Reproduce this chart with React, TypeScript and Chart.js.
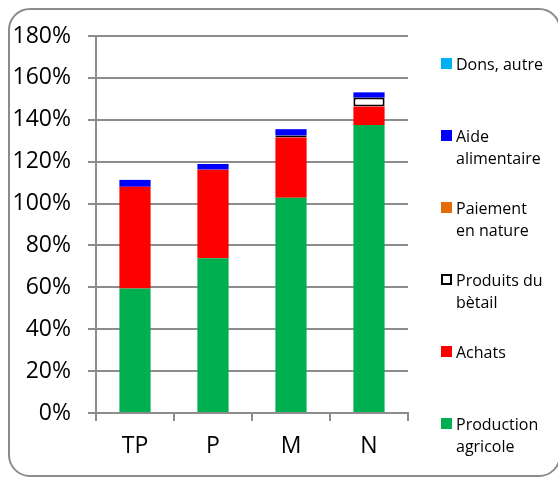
import React, { useEffect, useRef } from "react";
import { Chart, registerables } from "chart.js";

Chart.register(...registerables);

const categories = ["TP", "P", "M", "N"];
const productionAgricole = [59.5, 73.9, 102.8, 137.5];
const achats = [48.5, 42.3, 28.7, 8.8];
const produitsDuBetail = [0, 0, 1.0, 4.3];
const paiementEnNature = [0, 0, 0, 0];
const aideAlimentaire = [3.3, 2.7, 3.0, 2.5];
const donsAutre = [0, 0, 0, 0];

const seriesNames = [
  "Production agricole",
  "Achats",
  "Produits du bètail",
  "Paiement en nature",
  "Aide alimentaire",
  "Dons, autre",
];
const legendLines = [
  ["Production", "agricole"],
  ["Achats"],
  ["Produits du", "bètail"],
  ["Paiement", "en nature"],
  ["Aide", "alimentaire"],
  ["Dons, autre"],
];
const yMin = 0;
const yMax = 180;
const yStep = 20;

const FONT = '"Open Sans", "Noto Sans", sans-serif';

const sideLegend = {
  id: "sideLegend",
  afterDraw(chart: any) {
    const ctx = chart.ctx as CanvasRenderingContext2D;
    const ds = chart.data.datasets;
    const n = ds.length;
    ctx.save();
    ctx.font = `16px ${FONT}`;
    ctx.textAlign = "left";
    ctx.textBaseline = "alphabetic";
    const boxX = 441;
    const size = 11;
    const firstCenter = 63.5;
    const step = 72;
    for (let i = 0; i < n; i++) {
      const idx = n - 1 - i;
      const d = ds[idx];
      const cy = firstCenter + i * step;
      const top = cy - size / 2;
      if (d.borderWidth && d.borderWidth > 0) {
        ctx.fillStyle = d.backgroundColor;
        ctx.fillRect(boxX, top, size, size);
        ctx.strokeStyle = d.borderColor;
        ctx.lineWidth = 2;
        ctx.strokeRect(boxX + 1, top + 1, size - 2, size - 2);
      } else {
        ctx.fillStyle = d.backgroundColor;
        ctx.fillRect(boxX, top, size, size);
      }
      ctx.fillStyle = "#000";
      const lines = legendLines[idx];
      lines.forEach((ln, k) => {
        ctx.fillText(ln, 456, cy + 6 + k * 22);
      });
    }
    ctx.restore();
  },
};

export default function App() {
  const ref = useRef<HTMLCanvasElement | null>(null);

  useEffect(() => {
    if (!ref.current) return;
    const mk = (label: string, data: number[], color: string, border?: string) => ({
      label,
      data,
      backgroundColor: color,
      borderColor: border || color,
      borderWidth: border ? 2 : 0,
      borderSkipped: false,
      categoryPercentage: 1,
      barPercentage: 0.4,
    });
    const chart = new Chart(ref.current, {
      type: "bar",
      data: {
        labels: categories,
        datasets: [
          mk(seriesNames[0], productionAgricole, "#00B050"),
          mk(seriesNames[1], achats, "#FF0000"),
          mk(seriesNames[2], produitsDuBetail, "#FFFFFF", "#000000"),
          mk(seriesNames[3], paiementEnNature, "#E36C09"),
          mk(seriesNames[4], aideAlimentaire, "#0000FF"),
          mk(seriesNames[5], donsAutre, "#00B0F0"),
        ] as any,
      },
      options: {
        responsive: false,
        animation: false,
        devicePixelRatio: 1,
        layout: { padding: { left: 0, top: 36, right: 150, bottom: 0 } },
        plugins: {
          legend: { display: false },
          tooltip: { enabled: false },
          title: { display: false },
        },
        scales: {
          x: {
            stacked: true,
            offset: true,
            grid: {
              offset: true,
              drawOnChartArea: false,
              drawTicks: true,
              tickLength: 8,
              color: "#8c8c8c",
              lineWidth: 2,
            },
            border: { color: "#8c8c8c", width: 2 },
            ticks: {
              color: "#000",
              padding: 12,
              font: { family: FONT, size: 23 },
            },
            afterFit(scale: any) {
              scale.height = 64;
            },
          },
          y: {
            stacked: true,
            min: yMin,
            max: yMax,
            ticks: {
              stepSize: yStep,
              color: "#000",
              padding: 17,
              font: { family: FONT, size: 23 },
              callback: (v: any) => `${v}%`,
            },
            grid: {
              color: "#8c8c8c",
              lineWidth: 2,
              tickLength: 8,
              drawTicks: true,
            },
            border: { color: "#8c8c8c", width: 2 },
            afterFit(scale: any) {
              scale.width = 96;
            },
          },
        },
      },
      plugins: [sideLegend],
    });
    return () => chart.destroy();
  }, []);

  return (
    <div
      style={{
        position: "fixed",
        left: 0,
        top: 0,
        width: 558,
        height: 477,
        overflow: "hidden",
        background: "#fff",
      }}
    >
      <div
        style={{
          position: "absolute",
          left: 8,
          top: 8,
          width: 553,
          height: 469,
          boxSizing: "border-box",
          border: "2px solid #8c8c8c",
          borderRadius: 22,
        }}
      />
      <canvas
        ref={ref}
        width={558}
        height={477}
        style={{ position: "absolute", left: 0, top: 0, width: 558, height: 477 }}
      />
    </div>
  );
}
